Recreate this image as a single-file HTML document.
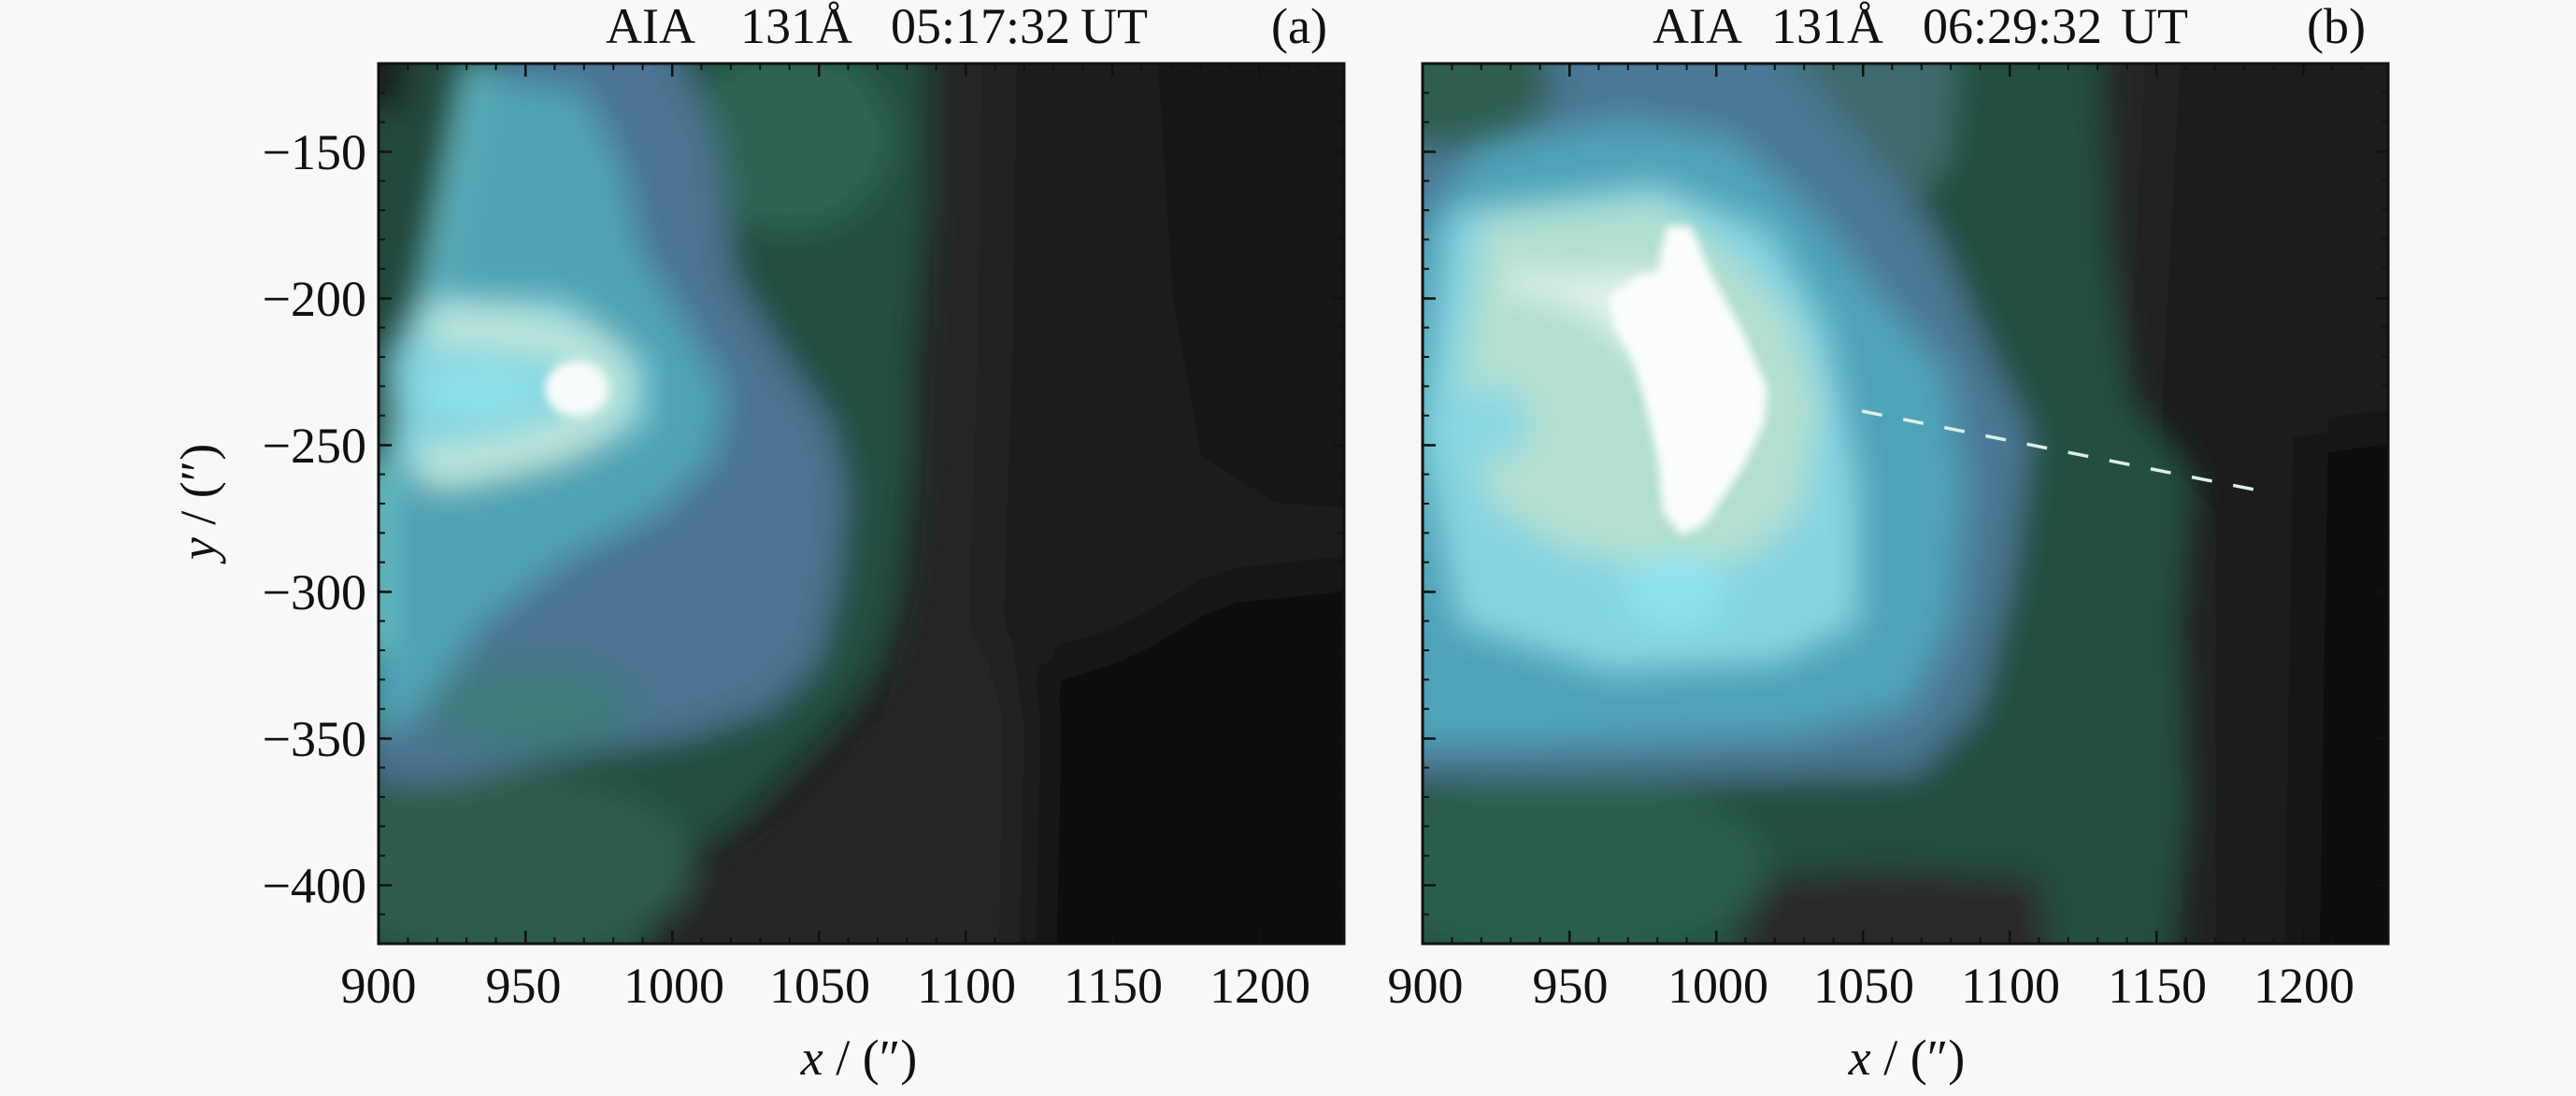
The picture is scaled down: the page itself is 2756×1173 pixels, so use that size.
<!DOCTYPE html>
<html>
<head>
<meta charset="utf-8">
<style>
  html, body { margin:0; padding:0; background:#f8f8f8; }
  svg { display:block; }
  svg text { font-family: "Liberation Serif", "DejaVu Serif", serif !important; font-size:54px; fill:#111; }
</style>
</head>
<body>
<svg width="2756" height="1173" viewBox="0 0 2756 1173" xmlns="http://www.w3.org/2000/svg" font-family="Liberation Serif, DejaVu Serif, serif">
  <defs>
    <clipPath id="cp"><rect x="0" y="0" width="1033" height="942"/></clipPath>
    <filter id="b1" x="-20%" y="-20%" width="140%" height="140%"><feGaussianBlur stdDeviation="17"/></filter>
    <filter id="b3" x="-20%" y="-20%" width="140%" height="140%"><feGaussianBlur stdDeviation="28"/></filter>
    <filter id="b2" x="-20%" y="-20%" width="140%" height="140%"><feGaussianBlur stdDeviation="5"/></filter>
  </defs>
  <rect x="0" y="0" width="2756" height="1173" fill="#f8f8f8"/>

  <!-- ================= PANEL A ================= -->
  <g transform="translate(405,68)" clip-path="url(#cp)">
    <g filter="url(#b3)">
      <rect x="-60" y="-60" width="1160" height="1070" fill="#1d1d1d"/>
      <polygon points="830,-60 1100,-60 1100,480 960,470 880,420 850,250" fill="#141414"/>
      <polygon points="700,650 800,620 900,560 1100,540 1100,1010 690,1010" fill="#0d0d0d"/>
      <polygon points="575,-60 665,-60 660,300 650,600 700,700 693,1010 284,1010 300,870 420,800 520,700 560,560 575,300" fill="#252525"/>
    </g>
    <g filter="url(#b1)">
      <polygon points="-60,-60 590,-60 590,150 575,330 575,420 560,570 540,640 500,700 440,760 380,820 300,860 284,1010 -60,1010" fill="#24503f"/>
      <polygon points="-60,-60 110,-60 100,0 20,440 -60,460" fill="#244a3d"/>
      <rect x="-60" y="-60" width="90" height="110" fill="#1c1c1c"/>
      <ellipse cx="440" cy="80" rx="110" ry="100" fill="#2f6352"/>
      <ellipse cx="140" cy="860" rx="200" ry="100" fill="#2d5d4b"/>
      <polygon points="105,0 300,-60 360,80 380,230 430,310 485,390 500,460 490,560 470,640 420,690 330,720 200,740 66,770 -10,770 -10,450 20,440" fill="#4b7592"/>
      <ellipse cx="165" cy="690" rx="110" ry="45" fill="#417c7c"/>
      <polygon points="105,10 220,30 260,110 280,200 330,280 370,350 360,420 300,480 200,530 110,600 40,700 -10,720 -10,450 20,440 60,220" fill="#50a2b4"/>
      <line x1="104" y1="0" x2="16" y2="440" stroke="#70c6cc" stroke-width="14"/>
      <polygon points="50,250 200,255 285,320 285,385 200,425 80,455 25,430 15,320" fill="#84d4e0"/>
      <path d="M55 282 Q 245 282 248 345 Q 248 412 45 432" stroke="#bfe7d9" stroke-width="40" fill="none"/>
      <ellipse cx="110" cy="350" rx="62" ry="24" fill="#90e3ee"/>
      <rect x="-10" y="430" width="18" height="200" fill="#78d6d8"/>
    </g>
    <g filter="url(#b2)">
      <ellipse cx="212" cy="348" rx="34" ry="30" fill="#f6fbf9"/>
    </g>
  </g>

  <!-- ================= PANEL B ================= -->
  <g transform="translate(1522,68)" clip-path="url(#cp)">
    <g filter="url(#b3)">
      <rect x="-60" y="-60" width="1160" height="1070" fill="#1a1a1a"/>
      <polygon points="950,400 1100,380 1100,1010 940,1010" fill="#101010"/>
      <polygon points="690,-60 795,-60 770,420 830,480 830,1010 700,1010 690,700" fill="#262626"/>
    </g>
    <g filter="url(#b1)">
      <polygon points="-60,-60 725,-60 735,200 758,360 825,440 811,600 820,800 795,1010 -60,1010" fill="#24503f"/>
      <polygon points="330,1010 350,870 500,860 660,870 680,1010" fill="#2a2a2a"/>
      <ellipse cx="150" cy="860" rx="220" ry="100" fill="#2c5e4c"/>
      <polygon points="340,-60 575,-60 565,100 520,160 430,60" fill="#3d6b6c"/>
      <polygon points="-60,-60 350,-60 450,60 547,180 600,300 650,400 630,550 595,690 527,760 300,765 100,765 -60,765" fill="#4b7894"/>
      <ellipse cx="20" cy="20" rx="120" ry="70" fill="#2f5f50"/>
      <polygon points="60,90 220,60 330,80 420,160 490,250 560,330 580,450 565,600 520,690 400,720 100,730 -60,730 -60,250" fill="#4fa3b8"/>
      <polygon points="30,160 250,130 370,180 430,280 465,450 465,600 380,640 200,650 40,600 0,400" fill="#84d4e2"/>
      <polygon points="66,165 255,150 320,195 390,265 425,360 405,480 350,530 250,540 150,520 70,470 40,350" fill="#b2dfcf"/>
      <ellipse cx="70" cy="385" rx="45" ry="40" fill="#8ad8e4"/>
      <ellipse cx="270" cy="565" rx="55" ry="40" fill="#8ee2f0"/>
      <polygon points="86,240 92,222 165,228 251,222 224,318 204,282 145,252" fill="#e3f2ec"/>
    </g>
    <g filter="url(#b2)">
      <polygon points="261,174 287,174 310,228 343,288 369,348 366,384 343,432 303,492 277,505 257,480 251,420 237,360 224,318 204,282 200,250 230,226 251,222" fill="#fbfdfc"/>
    </g>
  </g>
  <!-- dashed line -->
  <line x1="1992" y1="440" x2="2422" y2="526" stroke="#dcefe8" stroke-width="3.5" stroke-dasharray="22 23"/>

  <!-- ================= TICKS & FRAMES ================= -->
  <g stroke="#111" fill="none">
    <!-- panel a -->
    <line x1="408.5" y1="68" x2="408.5" y2="1010" stroke-width="7" stroke-dasharray="2 29.4" stroke-dashoffset="1"/>
    <line x1="412" y1="68" x2="412" y2="1010" stroke-width="14" stroke-dasharray="2.5 154.5" stroke-dashoffset="63.8"/>
    <line x1="1434.5" y1="68" x2="1434.5" y2="1010" stroke-width="7" stroke-dasharray="2 29.4" stroke-dashoffset="1"/>
    <line x1="1431" y1="68" x2="1431" y2="1010" stroke-width="14" stroke-dasharray="2.5 154.5" stroke-dashoffset="63.8"/>
    <line x1="405" y1="71.5" x2="1438" y2="71.5" stroke-width="7" stroke-dasharray="2 29.4" stroke-dashoffset="1"/>
    <line x1="405" y1="75" x2="1438" y2="75" stroke-width="14" stroke-dasharray="2.5 154.5" stroke-dashoffset="1"/>
    <line x1="405" y1="1006.5" x2="1438" y2="1006.5" stroke-width="7" stroke-dasharray="2 29.4" stroke-dashoffset="1"/>
    <line x1="405" y1="1003" x2="1438" y2="1003" stroke-width="14" stroke-dasharray="2.5 154.5" stroke-dashoffset="1"/>
    <rect x="405" y="68" width="1033" height="942" stroke-width="3"/>
    <!-- panel b -->
    <line x1="1525.5" y1="68" x2="1525.5" y2="1010" stroke-width="7" stroke-dasharray="2 29.4" stroke-dashoffset="1"/>
    <line x1="1529" y1="68" x2="1529" y2="1010" stroke-width="14" stroke-dasharray="2.5 154.5" stroke-dashoffset="63.8"/>
    <line x1="2551.5" y1="68" x2="2551.5" y2="1010" stroke-width="7" stroke-dasharray="2 29.4" stroke-dashoffset="1"/>
    <line x1="2548" y1="68" x2="2548" y2="1010" stroke-width="14" stroke-dasharray="2.5 154.5" stroke-dashoffset="63.8"/>
    <line x1="1522" y1="71.5" x2="2555" y2="71.5" stroke-width="7" stroke-dasharray="2 29.4" stroke-dashoffset="1"/>
    <line x1="1522" y1="75" x2="2555" y2="75" stroke-width="14" stroke-dasharray="2.5 154.5" stroke-dashoffset="1"/>
    <line x1="1522" y1="1006.5" x2="2555" y2="1006.5" stroke-width="7" stroke-dasharray="2 29.4" stroke-dashoffset="1"/>
    <line x1="1522" y1="1003" x2="2555" y2="1003" stroke-width="14" stroke-dasharray="2.5 154.5" stroke-dashoffset="1"/>
    <rect x="1522" y="68" width="1033" height="942" stroke-width="3"/>
  </g>

  <!-- ================= TITLES ================= -->
  <text x="648" y="46">AIA</text>
  <text x="792" y="46">131Å</text>
  <text x="953" y="46">05:17:32</text>
  <text x="1156" y="46">UT</text>
  <text x="1360" y="46">(a)</text>

  <text x="1768" y="46">AIA</text>
  <text x="1895" y="46">131Å</text>
  <text x="2057" y="46">06:29:32</text>
  <text x="2269" y="46">UT</text>
  <text x="2468" y="46">(b)</text>

  <!-- ================= Y TICK LABELS ================= -->
  <g text-anchor="end">
    <text x="392" y="181">−150</text>
    <text x="392" y="338">−200</text>
    <text x="392" y="495">−250</text>
    <text x="392" y="652">−300</text>
    <text x="392" y="809">−350</text>
    <text x="392" y="966">−400</text>
  </g>

  <!-- ================= X TICK LABELS ================= -->
  <g text-anchor="middle">
    <text x="405" y="1073">900</text>
    <text x="560" y="1073">950</text>
    <text x="721" y="1073">1000</text>
    <text x="877" y="1073">1050</text>
    <text x="1034" y="1073">1100</text>
    <text x="1191" y="1073">1150</text>
    <text x="1348" y="1073">1200</text>

    <text x="1525" y="1073">900</text>
    <text x="1680" y="1073">950</text>
    <text x="1838" y="1073">1000</text>
    <text x="1994" y="1073">1050</text>
    <text x="2151" y="1073">1100</text>
    <text x="2308" y="1073">1150</text>
    <text x="2465" y="1073">1200</text>
  </g>

  <!-- ================= AXIS LABELS ================= -->
  <text x="919" y="1150" text-anchor="middle"><tspan font-style="italic">x</tspan> / (″)</text>
  <text x="2040" y="1150" text-anchor="middle"><tspan font-style="italic">x</tspan> / (″)</text>
  <text transform="translate(230,537) rotate(-90)" text-anchor="middle"><tspan font-style="italic">y</tspan> / (″)</text>
</svg>
</body>
</html>
